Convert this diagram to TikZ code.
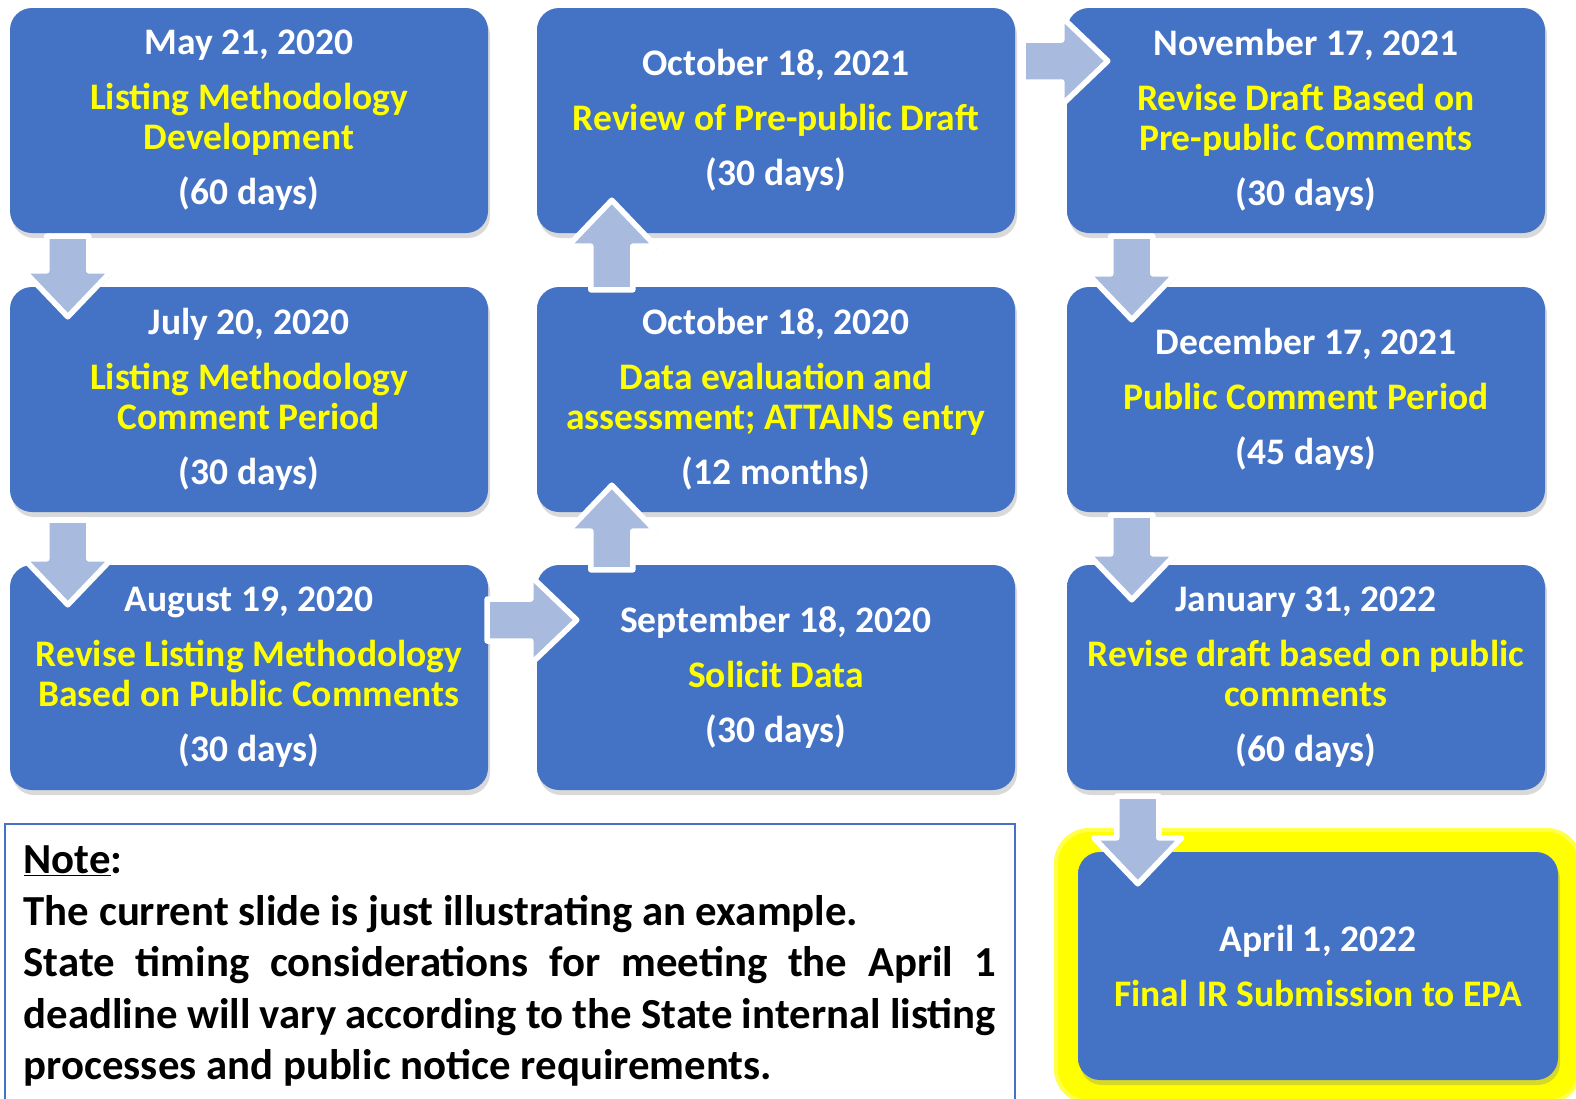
\documentclass[tikz,border=0pt]{standalone}
\usepackage{fontspec}
\setmainfont{Carlito}
\usepackage{xcolor}
\usepackage{tikz}
\usetikzlibrary{calc,shadows,fit,backgrounds}

\definecolor{boxblue}{RGB}{68,114,196}
\definecolor{boxtop}{RGB}{140,182,244}
\definecolor{boxdark}{RGB}{60,102,180}
\definecolor{arrowblue}{RGB}{168,187,222}
\definecolor{ttlyellow}{RGB}{255,255,0}

\pgfdeclareverticalshading{boxshade}{100bp}{color(0bp)=(boxdark); color(8bp)=(boxblue); color(86bp)=(boxblue); color(96bp)=(boxtop); color(100bp)=(boxtop)}

\newcommand{\ttl}[1]{\textcolor{ttlyellow}{#1}}
\hyphenpenalty=10000
\exhyphenpenalty=10000

\begin{document}
\begin{tikzpicture}[x=1pt,y=-1pt,
  stepbox/.style={rounded corners=22pt, minimum width=478pt, minimum height=225pt,
    shading=boxshade, text=white, align=center,
    font=\fontsize{37.5}{40}\selectfont\bfseries,
    drop shadow={shadow xshift=2pt, shadow yshift=-5pt, opacity=0.3}},
  flowarrow/.style={draw=white, line width=5.5pt, fill=arrowblue, line join=round,
    drop shadow={shadow xshift=1.5pt, shadow yshift=-2.5pt, opacity=0.3},
    to path={let \p1=(\tikztostart), \p2=(\tikztotarget),
      \n1={atan2(\y2-\y1,\x2-\x1)}, \n2={veclen(\x2-\x1,\y2-\y1)-46} in
      ($(\p1)+(\n1+90:21pt)$) -- ($(\p1)+(\n1:\n2)+(\n1+90:21pt)$)
      -- ($(\p1)+(\n1:\n2)+(\n1+90:44pt)$) -- (\p2)
      -- ($(\p1)+(\n1:\n2)+(\n1-90:44pt)$) -- ($(\p1)+(\n1:\n2)+(\n1-90:21pt)$)
      -- ($(\p1)+(\n1-90:21pt)$) -- cycle}},
  notebox/.style={draw=boxblue, line width=1.5pt, fill=white, text=black,
    text width=972pt, align=justify, inner xsep=19pt, inner ysep=22pt,
    font=\fontsize{42.8}{51.5}\selectfont\bfseries}]

\useasboundingbox (0,0) rectangle (1576,1098);

% first column
\node[stepbox] (m1) at (249,120.5) {May 21, 2020\\[15pt]\ttl{Listing Methodology}\\\ttl{Development}\\[15pt](60 days)};
\node[stepbox] (m2) at (249,399.5) {July 20, 2020\\[15pt]\ttl{Listing Methodology}\\\ttl{Comment Period}\\[15pt](30 days)};
\node[stepbox] (m3) at (249,677.5) {August 19, 2020\\[15pt]\ttl{Revise Listing Methodology}\\\ttl{Based on Public Comments}\\[15pt](30 days)};

% second column
\node[stepbox] (s1) at (776,677.5) {September 18, 2020\\[15pt]\ttl{Solicit Data}\\[15pt](30 days)};
\node[stepbox] (s2) at (776,399.5) {October 18, 2020\\[15pt]\ttl{Data evaluation and}\\\ttl{assessment; ATTAINS entry}\\[15pt](12 months)};
\node[stepbox] (s3) at (776,120.5) {October 18, 2021\\[15pt]\ttl{Review of Pre-public Draft}\\[15pt](30 days)};

% third column
\node[stepbox] (r1) at (1306,120.5) {November 17, 2021\\[15pt]\ttl{Revise Draft Based on}\\\ttl{Pre-public Comments}\\[15pt](30 days)};
\node[stepbox] (r2) at (1306,399.5) {December 17, 2021\\[15pt]\ttl{Public Comment Period}\\[15pt](45 days)};
\node[stepbox] (r3) at (1306,677.5) {January 31, 2022\\[15pt]\ttl{Revise draft based on public}\\\ttl{comments}\\[15pt](60 days)};

% final submission
\node[stepbox, minimum width=480pt, minimum height=228pt] (fin) at (1318,966) {April 1, 2022\\[15pt]\ttl{Final IR Submission to EPA}};
\begin{scope}[on background layer]
\node[fit=(fin), inner sep=22pt, rounded corners=34pt, fill=ttlyellow, draw=ttlyellow!70, line width=4pt] (finglow) {};
\end{scope}

% note
\node[notebox, anchor=north west] (note) at (4,823) {\underline{Note}:\par
The current slide is just illustrating an example.\par
State timing considerations for meeting the April 1 deadline will vary according to the State internal listing processes and public notice requirements.};

% arrow ends
\coordinate (a1s) at ($(m1.south west)+(58,3)$);
\coordinate (a1e) at ($(m2.north west)+(58,30)$);
\coordinate (a2s) at ($(m2.south west)+(58,8)$);
\coordinate (a2e) at ($(m3.north west)+(58,40)$);
\coordinate (a3s) at ($(m3.east)+(-1,-57.5)$);
\coordinate (a3e) at ($(s1.west)+(40,-57.5)$);
\coordinate (a4s) at ($(s1.north west)+(75,5)$);
\coordinate (a4e) at ($(s2.south west)+(75,-27)$);
\coordinate (a5s) at ($(s2.north west)+(75,3)$);
\coordinate (a5e) at ($(s3.south west)+(75,-33)$);
\coordinate (a6s) at ($(s3.east)+(8,-59.5)$);
\coordinate (a6e) at ($(r1.west)+(41,-59.5)$);
\coordinate (a7s) at ($(r1.south west)+(65,3)$);
\coordinate (a7e) at ($(r2.north west)+(65,33)$);
\coordinate (a8s) at ($(r2.south west)+(65,3)$);
\coordinate (a8e) at ($(r3.north west)+(65,35)$);
\coordinate (a9s) at ($(r3.south west)+(71,6)$);
\coordinate (a9e) at ($(fin.north west)+(60,32)$);

\draw[flowarrow] (a1s) to (a1e);
\draw[flowarrow] (a2s) to (a2e);
\draw[flowarrow] (a3s) to (a3e);
\draw[flowarrow] (a4s) to (a4e);
\draw[flowarrow] (a5s) to (a5e);
\draw[flowarrow] (a6s) to (a6e);
\draw[flowarrow] (a7s) to (a7e);
\draw[flowarrow] (a8s) to (a8e);
\draw[flowarrow] (a9s) to (a9e);
\end{tikzpicture}
\end{document}
